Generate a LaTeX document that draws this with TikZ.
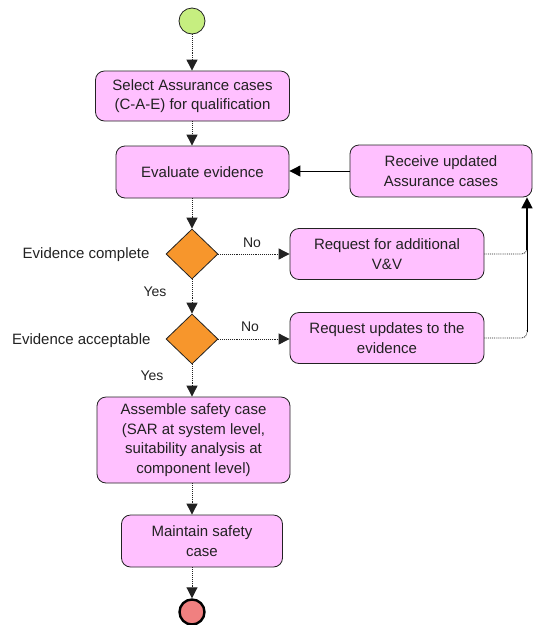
\documentclass[tikz,border=0pt]{standalone}
\usepackage{fontspec}
\setmainfont{Liberation Sans}
\usetikzlibrary{shapes.geometric,arrows.meta}
\definecolor{boxfill}{HTML}{FFC0FF}
\definecolor{startfill}{HTML}{C6EE80}
\definecolor{decfill}{HTML}{F7962C}
\definecolor{endfill}{HTML}{F08080}
\definecolor{ink}{HTML}{222222}
\begin{document}
\begin{tikzpicture}[x=1pt,y=-1pt,
  every node/.style={text=ink},
  action/.style={draw=ink, line width=0.8pt, fill=boxfill, rounded corners=9pt,
    align=center, inner sep=0pt, font=\fontsize{15}{19.5}\selectfont},
  decision/.style={draw=ink, line width=0.8pt, fill=decfill, diamond, inner sep=0pt,
    minimum width=52pt, minimum height=50pt},
  startnode/.style={draw=ink, line width=0.8pt, fill=startfill, circle, inner sep=0pt, minimum size=26pt},
  endnode/.style={draw=black, line width=2.4pt, fill=endfill, circle, inner sep=0pt, minimum size=25pt},
  lbl/.style={font=\fontsize{15}{18}\selectfont},
  small/.style={font=\fontsize{14}{16}\selectfont},
  flow/.style={draw=ink, line width=0.9pt, densely dotted, -{Triangle[length=11pt,width=11pt]}},
  flowplain/.style={draw=ink, line width=0.9pt, densely dotted},
  rail/.style={draw=black, line width=1.6pt},
  railthin/.style={draw=black, line width=0.8pt},
]
\useasboundingbox (0,0) rectangle (537,625);

% activity nodes
\node[startnode] (start) at (192,21) {};
\node[action, minimum width=194pt, minimum height=50pt] (select) at (192.5,96)
  {Select Assurance cases\\(C-A-E) for qualification};
\node[action, minimum width=173pt, minimum height=52pt] (evaluate) at (202.5,172)
  {Evaluate evidence};
\node[action, minimum width=182pt, minimum height=52pt] (receive) at (441,171)
  {Receive updated\\Assurance cases};
\node[decision] (complete) at (192,254) {};
\node[decision] (acceptable) at (192,339) {};
\node[action, minimum width=194pt, minimum height=51pt] (addvv) at (387,254)
  {Request for additional\\V\&V};
\node[action, minimum width=194pt, minimum height=51pt] (updates) at (387,338)
  {Request updates to the\\evidence};
\node[action, minimum width=193pt, minimum height=86pt] (assemble) at (193.5,440)
  {Assemble safety case\\(SAR at system level,\\suitability analysis at\\component level)};
\node[action, minimum width=161pt, minimum height=52pt] (maintain) at (202,541)
  {Maintain safety\\case};
\node[endnode] (finish) at (192,612) {};

% decision captions and branch labels
\node[lbl, anchor=east] (q1) at (153,255) {Evidence complete};
\node[lbl, anchor=east] (q2) at (154,341) {Evidence acceptable};
\node[small] (no1) at (252,243) {No};
\node[small] (no2) at (250,327) {No};
\node[small] (yes1) at (155,292) {Yes};
\node[small] (yes2) at (152,376) {Yes};

% rail on the right feeding back into the updated cases
\coordinate (railx) at (527,0);

% main flow
\draw[flow] (start) -- (select.north -| start);
\draw[flow] (select.south -| start) -- (evaluate.north -| start);
\draw[flow] (evaluate.south -| start) -- (complete.north);
\draw[flow] (complete.south) -- (acceptable.north);
\draw[flow] (acceptable.south) -- (assemble.north -| acceptable);
\draw[flow] (assemble.south -| acceptable) -- (maintain.north -| acceptable);
\draw[flow] (maintain.south -| acceptable) -- (finish.north);

% branches
\draw[flow] (complete.east) -- (addvv.west);
\draw[flow] (acceptable.east) -- (updates.west |- acceptable.east);
\draw[flowplain, rounded corners=5pt] (addvv.east) -- (railx |- addvv.east) -- ++(0,-8);
\draw[flowplain, rounded corners=5pt] (updates.east) -- (railx |- updates.east) -- ++(0,-8);
\draw[railthin] ([yshift=6pt]railx |- updates.east) -- ([yshift=4pt]railx |- addvv.east);
\draw[rail, -{Triangle[length=11pt,width=11pt]}] ([yshift=4pt]railx |- addvv.east) -- (railx |- receive.south);
\draw[draw=black, line width=0.9pt, -{Triangle[length=11pt,width=11pt]}] (receive.west) -- (evaluate.east |- receive.west);
\end{tikzpicture}
\end{document}
